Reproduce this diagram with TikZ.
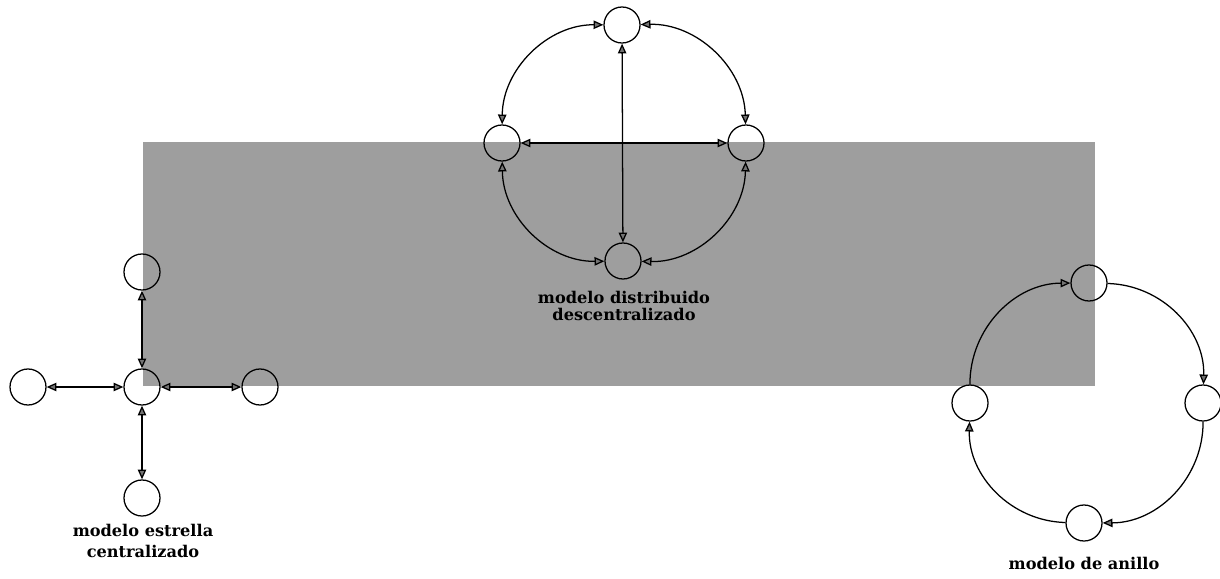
\documentclass[tikz,border=0pt]{standalone}
\usepackage{fontspec}
\setmainfont{DejaVu Serif}
\usetikzlibrary{positioning,arrows.meta}

\begin{document}
\begin{tikzpicture}[
    x=0.025cm,y=-0.025cm,
    nd/.style={draw,circle,minimum size=0.9cm,inner sep=0pt,line width=0.9pt},
    lnk/.style={line width=0.9pt,{Triangle[width=6pt,length=7pt,fill=black!55]}-{Triangle[width=6pt,length=7pt,fill=black!55]}},
    one/.style={line width=0.9pt,-{Triangle[width=6pt,length=7pt,fill=black!55]}},
    lbl/.style={font=\bfseries\fontsize{11.5}{15.5}\selectfont,align=center},
]
\useasboundingbox (0,0) rectangle (1220,578);
% shaded band
\fill[black!38] (143,142) rectangle (1095,386);

% distributed model
\node[nd] (dt) at (622,25)  {};
\node[nd] (dl) at (502,143) {};
\node[nd] (dr) at (746,143) {};
\node[nd] (db) at (623,261) {};
\draw[lnk] (dt) to[bend right=45] (dl);
\draw[lnk] (dt) to[bend left=45]  (dr);
\draw[lnk] (db) to[bend left=45]  (dl);
\draw[lnk] (db) to[bend right=45] (dr);
\draw[lnk] (dt) -- (db);
\draw[lnk] (dl) -- (dr);
\node[lbl,font=\bfseries\fontsize{11.5}{12.5}\selectfont] (dtxt) at (624,306) {modelo distribuido\\descentralizado};

% star model
\node[nd] (sc) at (142,387) {};
\node[nd] (st) at (142,272) {};
\node[nd] (sl) at (28,387)  {};
\node[nd] (sr) at (260,387) {};
\node[nd] (sb) at (142,498) {};
\foreach \n in {st,sl,sr,sb}
  \draw[lnk] (sc) -- (\n);
\node[lbl] (stxt) at (143,541) {modelo estrella\\centralizado};

% ring model
\node[nd] (rt) at (1089,283) {};
\node[nd] (rr) at (1203,403) {};
\node[nd] (rb) at (1084,523) {};
\node[nd] (rl) at (970,403)  {};
\draw[one] (rt) to[bend left=45] (rr);
\draw[one] (rr) to[bend left=45] (rb);
\draw[one] (rb) to[bend left=45] (rl);
\draw[one] (rl) to[bend left=45] (rt);
\node[lbl] (rtxt) at (1084,563) {modelo de anillo};
\end{tikzpicture}
\end{document}
